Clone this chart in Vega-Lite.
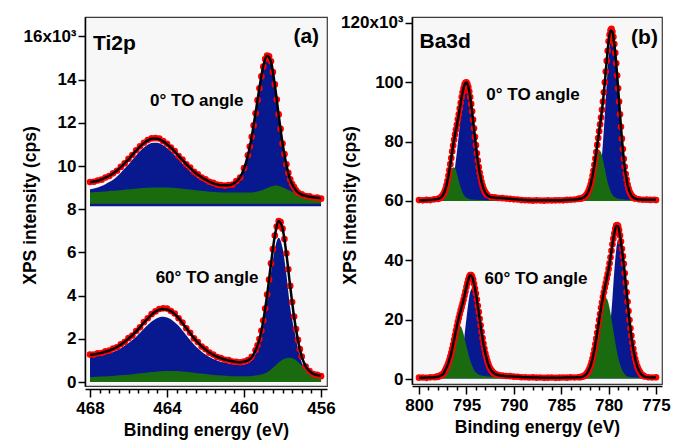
{
"$schema":"https://vega.github.io/schema/vega-lite/v6.json",
"background":"white",
"padding":{"left":20,"top":13,"right":5,"bottom":0},
"config":{
 "font":"Liberation Sans",
 "view":{"stroke":"#3a3a3a","strokeWidth":1.2,"fill":"#f7f7f7"},
 "axis":{"grid":false,"domainColor":"black","domainWidth":1.5,"tickColor":"black","tickWidth":1.5,"labelFont":"Liberation Sans","labelFontWeight":"bold","labelFontSize":17,"labelColor":"black","titleFont":"Liberation Sans","titleFontWeight":"bold","titleFontSize":17.5,"titleColor":"black","labelFlush":false,"labelOverlap":false,"labelBound":false}
},
"datasets":{
"tiO":[
{"s":"0","e":456,"v":8.49},{"s":"0","e":456.2,"v":8.54},{"s":"0","e":456.4,"v":8.53},{"s":"0","e":456.6,"v":8.6},{"s":"0","e":456.8,"v":8.61},{"s":"0","e":457,"v":8.69},{"s":"0","e":457.2,"v":8.77},{"s":"0","e":457.3,"v":8.88},{"s":"0","e":457.4,"v":9.02},{"s":"0","e":457.5,"v":9.16},{"s":"0","e":457.6,"v":9.38},{"s":"0","e":457.7,"v":9.68},{"s":"0","e":457.8,"v":10.08},{"s":"0","e":457.9,"v":10.55},{"s":"0","e":458,"v":11.04},{"s":"0","e":458.1,"v":11.72},{"s":"0","e":458.2,"v":12.39},{"s":"0","e":458.3,"v":13.08},{"s":"0","e":458.4,"v":13.78},{"s":"0","e":458.5,"v":14.35},{"s":"0","e":458.6,"v":14.85},{"s":"0","e":458.7,"v":15.08},{"s":"0","e":458.8,"v":15.12},{"s":"0","e":458.9,"v":14.95},{"s":"0","e":459,"v":14.6},{"s":"0","e":459.1,"v":14.15},{"s":"0","e":459.2,"v":13.6},{"s":"0","e":459.3,"v":13.05},{"s":"0","e":459.4,"v":12.44},{"s":"0","e":459.5,"v":11.88},{"s":"0","e":459.6,"v":11.35},{"s":"0","e":459.7,"v":10.9},{"s":"0","e":459.8,"v":10.5},{"s":"0","e":460,"v":9.9},{"s":"0","e":460.2,"v":9.47},{"s":"0","e":460.4,"v":9.3},{"s":"0","e":460.6,"v":9.14},{"s":"0","e":460.8,"v":9.12},{"s":"0","e":461,"v":9.09},{"s":"0","e":461.2,"v":9.12},{"s":"0","e":461.4,"v":9.14},{"s":"0","e":461.6,"v":9.22},{"s":"0","e":461.8,"v":9.27},{"s":"0","e":462,"v":9.39},{"s":"0","e":462.2,"v":9.47},{"s":"0","e":462.4,"v":9.62},{"s":"0","e":462.6,"v":9.73},{"s":"0","e":462.8,"v":9.93},{"s":"0","e":463,"v":10.08},{"s":"0","e":463.2,"v":10.3},{"s":"0","e":463.4,"v":10.46},{"s":"0","e":463.6,"v":10.69},{"s":"0","e":463.8,"v":10.86},{"s":"0","e":464,"v":11.03},{"s":"0","e":464.2,"v":11.15},{"s":"0","e":464.4,"v":11.27},{"s":"0","e":464.6,"v":11.29},{"s":"0","e":464.8,"v":11.28},{"s":"0","e":465,"v":11.2},{"s":"0","e":465.2,"v":11.08},{"s":"0","e":465.4,"v":10.91},{"s":"0","e":465.6,"v":10.73},{"s":"0","e":465.8,"v":10.51},{"s":"0","e":466,"v":10.33},{"s":"0","e":466.2,"v":10.12},{"s":"0","e":466.4,"v":9.96},{"s":"0","e":466.6,"v":9.78},{"s":"0","e":466.8,"v":9.66},{"s":"0","e":467,"v":9.54},{"s":"0","e":467.2,"v":9.47},{"s":"0","e":467.4,"v":9.37},{"s":"0","e":467.6,"v":9.33},{"s":"0","e":467.8,"v":9.27},{"s":"0","e":468,"v":9.26},
{"s":"60","e":456,"v":0.27},{"s":"60","e":456.2,"v":0.33},{"s":"60","e":456.4,"v":0.37},{"s":"60","e":456.6,"v":0.51},{"s":"60","e":456.8,"v":0.72},{"s":"60","e":457,"v":1.18},{"s":"60","e":457.1,"v":1.52},{"s":"60","e":457.2,"v":1.95},{"s":"60","e":457.3,"v":2.45},{"s":"60","e":457.4,"v":3.03},{"s":"60","e":457.5,"v":3.7},{"s":"60","e":457.6,"v":4.45},{"s":"60","e":457.7,"v":5.22},{"s":"60","e":457.8,"v":5.96},{"s":"60","e":457.9,"v":6.62},{"s":"60","e":458,"v":7.1},{"s":"60","e":458.1,"v":7.4},{"s":"60","e":458.2,"v":7.45},{"s":"60","e":458.3,"v":7.2},{"s":"60","e":458.4,"v":6.78},{"s":"60","e":458.5,"v":6.15},{"s":"60","e":458.6,"v":5.49},{"s":"60","e":458.7,"v":4.74},{"s":"60","e":458.8,"v":4.05},{"s":"60","e":458.9,"v":3.4},{"s":"60","e":459,"v":2.85},{"s":"60","e":459.1,"v":2.37},{"s":"60","e":459.2,"v":1.99},{"s":"60","e":459.3,"v":1.7},{"s":"60","e":459.4,"v":1.47},{"s":"60","e":459.6,"v":1.17},{"s":"60","e":459.8,"v":1.01},{"s":"60","e":460,"v":0.95},{"s":"60","e":460.2,"v":0.91},{"s":"60","e":460.4,"v":0.94},{"s":"60","e":460.6,"v":0.95},{"s":"60","e":460.8,"v":1.01},{"s":"60","e":461,"v":1.03},{"s":"60","e":461.2,"v":1.11},{"s":"60","e":461.4,"v":1.16},{"s":"60","e":461.6,"v":1.27},{"s":"60","e":461.8,"v":1.36},{"s":"60","e":462,"v":1.52},{"s":"60","e":462.2,"v":1.64},{"s":"60","e":462.4,"v":1.85},{"s":"60","e":462.6,"v":2.02},{"s":"60","e":462.8,"v":2.28},{"s":"60","e":463,"v":2.49},{"s":"60","e":463.2,"v":2.75},{"s":"60","e":463.4,"v":2.95},{"s":"60","e":463.6,"v":3.17},{"s":"60","e":463.8,"v":3.29},{"s":"60","e":464,"v":3.4},{"s":"60","e":464.2,"v":3.41},{"s":"60","e":464.4,"v":3.38},{"s":"60","e":464.6,"v":3.27},{"s":"60","e":464.8,"v":3.14},{"s":"60","e":465,"v":2.95},{"s":"60","e":465.2,"v":2.77},{"s":"60","e":465.4,"v":2.53},{"s":"60","e":465.6,"v":2.36},{"s":"60","e":465.8,"v":2.15},{"s":"60","e":466,"v":2.03},{"s":"60","e":466.2,"v":1.85},{"s":"60","e":466.4,"v":1.75},{"s":"60","e":466.6,"v":1.61},{"s":"60","e":466.8,"v":1.55},{"s":"60","e":467,"v":1.45},{"s":"60","e":467.2,"v":1.42},{"s":"60","e":467.4,"v":1.34},{"s":"60","e":467.6,"v":1.33},{"s":"60","e":467.8,"v":1.27},{"s":"60","e":468,"v":1.27}
],
"tiC":[
{"s":"0","e":456,"f":8.51,"b":8.46,"g":8.46,"z":8.2},{"s":"0","e":456.2,"f":8.53,"b":8.48,"g":8.49,"z":8.2},{"s":"0","e":456.4,"f":8.55,"b":8.5,"g":8.52,"z":8.2},{"s":"0","e":456.6,"f":8.58,"b":8.52,"g":8.56,"z":8.2},{"s":"0","e":456.8,"f":8.62,"b":8.55,"g":8.6,"z":8.2},{"s":"0","e":457,"f":8.67,"b":8.59,"g":8.64,"z":8.2},{"s":"0","e":457.2,"f":8.78,"b":8.69,"g":8.7,"z":8.2},{"s":"0","e":457.4,"f":9.0,"b":8.9,"g":8.76,"z":8.2},{"s":"0","e":457.6,"f":9.36,"b":9.24,"g":8.85,"z":8.2},{"s":"0","e":457.8,"f":10.06,"b":9.93,"g":8.94,"z":8.2},{"s":"0","e":458,"f":11.06,"b":10.92,"g":9.02,"z":8.2},{"s":"0","e":458.2,"f":12.36,"b":12.22,"g":9.08,"z":8.2},{"s":"0","e":458.4,"f":13.75,"b":13.61,"g":9.1,"z":8.2},{"s":"0","e":458.6,"f":14.83,"b":14.7,"g":9.05,"z":8.2},{"s":"0","e":458.8,"f":15.11,"b":14.99,"g":8.98,"z":8.2},{"s":"0","e":459,"f":14.63,"b":14.53,"g":8.9,"z":8.2},{"s":"0","e":459.2,"f":13.62,"b":13.53,"g":8.84,"z":8.2},{"s":"0","e":459.4,"f":12.46,"b":12.38,"g":8.8,"z":8.2},{"s":"0","e":459.6,"f":11.36,"b":11.28,"g":8.78,"z":8.2},{"s":"0","e":459.8,"f":10.49,"b":10.41,"g":8.77,"z":8.2},{"s":"0","e":460,"f":9.88,"b":9.8,"g":8.77,"z":8.2},{"s":"0","e":460.2,"f":9.49,"b":9.41,"g":8.77,"z":8.2},{"s":"0","e":460.4,"f":9.28,"b":9.2,"g":8.77,"z":8.2},{"s":"0","e":460.6,"f":9.16,"b":9.08,"g":8.77,"z":8.2},{"s":"0","e":460.8,"f":9.11,"b":9.02,"g":8.77,"z":8.2},{"s":"0","e":461,"f":9.11,"b":9.01,"g":8.77,"z":8.2},{"s":"0","e":461.2,"f":9.11,"b":9.01,"g":8.78,"z":8.2},{"s":"0","e":461.4,"f":9.15,"b":9.04,"g":8.79,"z":8.2},{"s":"0","e":461.6,"f":9.2,"b":9.09,"g":8.8,"z":8.2},{"s":"0","e":461.8,"f":9.28,"b":9.16,"g":8.81,"z":8.2},{"s":"0","e":462,"f":9.37,"b":9.25,"g":8.83,"z":8.2},{"s":"0","e":462.2,"f":9.48,"b":9.35,"g":8.85,"z":8.2},{"s":"0","e":462.4,"f":9.6,"b":9.46,"g":8.87,"z":8.2},{"s":"0","e":462.6,"f":9.74,"b":9.6,"g":8.89,"z":8.2},{"s":"0","e":462.8,"f":9.91,"b":9.76,"g":8.91,"z":8.2},{"s":"0","e":463,"f":10.09,"b":9.93,"g":8.93,"z":8.2},{"s":"0","e":463.2,"f":10.28,"b":10.12,"g":8.95,"z":8.2},{"s":"0","e":463.4,"f":10.47,"b":10.31,"g":8.97,"z":8.2},{"s":"0","e":463.6,"f":10.67,"b":10.5,"g":8.98,"z":8.2},{"s":"0","e":463.8,"f":10.85,"b":10.68,"g":8.99,"z":8.2},{"s":"0","e":464,"f":11.01,"b":10.83,"g":9.0,"z":8.2},{"s":"0","e":464.2,"f":11.14,"b":10.96,"g":9.01,"z":8.2},{"s":"0","e":464.4,"f":11.24,"b":11.06,"g":9.01,"z":8.2},{"s":"0","e":464.6,"f":11.27,"b":11.08,"g":9.01,"z":8.2},{"s":"0","e":464.8,"f":11.26,"b":11.07,"g":9.0,"z":8.2},{"s":"0","e":465,"f":11.19,"b":10.99,"g":8.99,"z":8.2},{"s":"0","e":465.2,"f":11.06,"b":10.86,"g":8.98,"z":8.2},{"s":"0","e":465.4,"f":10.9,"b":10.69,"g":8.97,"z":8.2},{"s":"0","e":465.6,"f":10.71,"b":10.49,"g":8.95,"z":8.2},{"s":"0","e":465.8,"f":10.52,"b":10.29,"g":8.94,"z":8.2},{"s":"0","e":466,"f":10.31,"b":10.07,"g":8.92,"z":8.2},{"s":"0","e":466.2,"f":10.13,"b":9.88,"g":8.9,"z":8.2},{"s":"0","e":466.4,"f":9.95,"b":9.69,"g":8.88,"z":8.2},{"s":"0","e":466.6,"f":9.79,"b":9.52,"g":8.87,"z":8.2},{"s":"0","e":466.8,"f":9.65,"b":9.37,"g":8.85,"z":8.2},{"s":"0","e":467,"f":9.55,"b":9.26,"g":8.84,"z":8.2},{"s":"0","e":467.2,"f":9.46,"b":9.16,"g":8.82,"z":8.2},{"s":"0","e":467.4,"f":9.38,"b":9.07,"g":8.81,"z":8.2},{"s":"0","e":467.6,"f":9.32,"b":9.0,"g":8.8,"z":8.2},{"s":"0","e":467.8,"f":9.28,"b":8.96,"g":8.79,"z":8.2},{"s":"0","e":468,"f":9.25,"b":8.92,"g":8.78,"z":8.2},
{"s":"60","e":456,"f":0.29,"b":0.24,"g":0.2,"z":0},{"s":"60","e":456.2,"f":0.32,"b":0.26,"g":0.25,"z":0},{"s":"60","e":456.4,"f":0.38,"b":0.31,"g":0.32,"z":0},{"s":"60","e":456.6,"f":0.5,"b":0.4,"g":0.43,"z":0},{"s":"60","e":456.8,"f":0.73,"b":0.57,"g":0.58,"z":0},{"s":"60","e":457,"f":1.16,"b":0.9,"g":0.76,"z":0},{"s":"60","e":457.2,"f":1.93,"b":1.55,"g":0.93,"z":0},{"s":"60","e":457.4,"f":3.01,"b":2.45,"g":1.06,"z":0},{"s":"60","e":457.6,"f":4.42,"b":3.44,"g":1.12,"z":0},{"s":"60","e":457.8,"f":5.94,"b":4.98,"g":1.1,"z":0},{"s":"60","e":458,"f":7.11,"b":6.22,"g":1.03,"z":0},{"s":"60","e":458.2,"f":7.44,"b":6.68,"g":0.9,"z":0},{"s":"60","e":458.4,"f":6.76,"b":6.16,"g":0.74,"z":0},{"s":"60","e":458.6,"f":5.47,"b":5.03,"g":0.58,"z":0},{"s":"60","e":458.8,"f":4.03,"b":3.72,"g":0.45,"z":0},{"s":"60","e":459,"f":2.83,"b":2.6,"g":0.37,"z":0},{"s":"60","e":459.2,"f":1.97,"b":1.79,"g":0.32,"z":0},{"s":"60","e":459.4,"f":1.46,"b":1.3,"g":0.3,"z":0},{"s":"60","e":459.6,"f":1.15,"b":1.01,"g":0.28,"z":0},{"s":"60","e":459.8,"f":1.0,"b":0.87,"g":0.27,"z":0},{"s":"60","e":460,"f":0.94,"b":0.81,"g":0.27,"z":0},{"s":"60","e":460.2,"f":0.92,"b":0.79,"g":0.27,"z":0},{"s":"60","e":460.4,"f":0.93,"b":0.8,"g":0.27,"z":0},{"s":"60","e":460.6,"f":0.96,"b":0.83,"g":0.27,"z":0},{"s":"60","e":460.8,"f":1.0,"b":0.86,"g":0.28,"z":0},{"s":"60","e":461,"f":1.04,"b":0.89,"g":0.29,"z":0},{"s":"60","e":461.2,"f":1.1,"b":0.94,"g":0.3,"z":0},{"s":"60","e":461.4,"f":1.17,"b":1.0,"g":0.31,"z":0},{"s":"60","e":461.6,"f":1.26,"b":1.07,"g":0.33,"z":0},{"s":"60","e":461.8,"f":1.37,"b":1.16,"g":0.35,"z":0},{"s":"60","e":462,"f":1.5,"b":1.27,"g":0.37,"z":0},{"s":"60","e":462.2,"f":1.65,"b":1.4,"g":0.39,"z":0},{"s":"60","e":462.4,"f":1.83,"b":1.56,"g":0.41,"z":0},{"s":"60","e":462.6,"f":2.03,"b":1.74,"g":0.43,"z":0},{"s":"60","e":462.8,"f":2.26,"b":1.95,"g":0.45,"z":0},{"s":"60","e":463,"f":2.5,"b":2.17,"g":0.47,"z":0},{"s":"60","e":463.2,"f":2.73,"b":2.38,"g":0.49,"z":0},{"s":"60","e":463.4,"f":2.96,"b":2.6,"g":0.5,"z":0},{"s":"60","e":463.6,"f":3.14,"b":2.77,"g":0.51,"z":0},{"s":"60","e":463.8,"f":3.28,"b":2.91,"g":0.51,"z":0},{"s":"60","e":464,"f":3.36,"b":2.99,"g":0.51,"z":0},{"s":"60","e":464.2,"f":3.38,"b":3.02,"g":0.5,"z":0},{"s":"60","e":464.4,"f":3.35,"b":3.0,"g":0.49,"z":0},{"s":"60","e":464.6,"f":3.26,"b":2.92,"g":0.48,"z":0},{"s":"60","e":464.8,"f":3.12,"b":2.8,"g":0.46,"z":0},{"s":"60","e":465,"f":2.94,"b":2.64,"g":0.44,"z":0},{"s":"60","e":465.2,"f":2.75,"b":2.47,"g":0.42,"z":0},{"s":"60","e":465.4,"f":2.54,"b":2.28,"g":0.4,"z":0},{"s":"60","e":465.6,"f":2.34,"b":2.1,"g":0.38,"z":0},{"s":"60","e":465.8,"f":2.16,"b":1.94,"g":0.36,"z":0},{"s":"60","e":466,"f":2.01,"b":1.81,"g":0.34,"z":0},{"s":"60","e":466.2,"f":1.86,"b":1.68,"g":0.32,"z":0},{"s":"60","e":466.4,"f":1.73,"b":1.56,"g":0.31,"z":0},{"s":"60","e":466.6,"f":1.62,"b":1.46,"g":0.3,"z":0},{"s":"60","e":466.8,"f":1.53,"b":1.39,"g":0.28,"z":0},{"s":"60","e":467,"f":1.46,"b":1.33,"g":0.27,"z":0},{"s":"60","e":467.2,"f":1.4,"b":1.28,"g":0.26,"z":0},{"s":"60","e":467.4,"f":1.35,"b":1.24,"g":0.25,"z":0},{"s":"60","e":467.6,"f":1.31,"b":1.21,"g":0.24,"z":0},{"s":"60","e":467.8,"f":1.28,"b":1.19,"g":0.23,"z":0},{"s":"60","e":468,"f":1.25,"b":1.17,"g":0.22,"z":0}
],
"baO":[
{"s":"0","e":800,"v":60.3},{"s":"0","e":799.6,"v":60.2},{"s":"0","e":799.2,"v":60.35},{"s":"0","e":798.8,"v":60.3},{"s":"0","e":798.4,"v":60.55},{"s":"0","e":798,"v":60.7},
{"s":"0","e":797.8,"v":60.95},{"s":"0","e":797.7,"v":61.15},{"s":"0","e":797.6,"v":61.5},{"s":"0","e":797.5,"v":61.9},{"s":"0","e":797.4,"v":62.45},{"s":"0","e":797.3,"v":63.2},{"s":"0","e":797.2,"v":64.0},{"s":"0","e":797.1,"v":65.3},{"s":"0","e":797,"v":66.7},{"s":"0","e":796.9,"v":68.5},{"s":"0","e":796.8,"v":70.3},{"s":"0","e":796.7,"v":72.4},{"s":"0","e":796.6,"v":74.5},{"s":"0","e":796.5,"v":76.7},{"s":"0","e":796.4,"v":78.7},{"s":"0","e":796.3,"v":80.6},{"s":"0","e":796.2,"v":82.4},{"s":"0","e":796.1,"v":84.1},{"s":"0","e":796,"v":85.7},{"s":"0","e":795.9,"v":87.5},{"s":"0","e":795.8,"v":89.2},{"s":"0","e":795.7,"v":91.2},{"s":"0","e":795.6,"v":93.1},{"s":"0","e":795.5,"v":95.0},{"s":"0","e":795.4,"v":96.6},{"s":"0","e":795.3,"v":98.0},{"s":"0","e":795.2,"v":99.2},{"s":"0","e":795.1,"v":99.8},{"s":"0","e":795,"v":100.0},{"s":"0","e":794.9,"v":99.4},{"s":"0","e":794.8,"v":98.4},{"s":"0","e":794.7,"v":96.9},{"s":"0","e":794.6,"v":95.0},{"s":"0","e":794.5,"v":92.7},{"s":"0","e":794.4,"v":90.2},{"s":"0","e":794.3,"v":87.4},{"s":"0","e":794.2,"v":84.5},{"s":"0","e":794.1,"v":81.6},{"s":"0","e":794,"v":78.8},{"s":"0","e":793.9,"v":76.1},{"s":"0","e":793.8,"v":73.6},{"s":"0","e":793.7,"v":71.4},{"s":"0","e":793.6,"v":69.5},{"s":"0","e":793.5,"v":67.9},{"s":"0","e":793.4,"v":66.4},{"s":"0","e":793.3,"v":65.2},{"s":"0","e":793.2,"v":64.2},{"s":"0","e":793.1,"v":63.4},{"s":"0","e":793,"v":62.8},{"s":"0","e":792.9,"v":62.3},{"s":"0","e":792.8,"v":62.0},
{"s":"0","e":792.4,"v":61.3},{"s":"0","e":792,"v":61.2},{"s":"0","e":791.6,"v":61.0},{"s":"0","e":791.2,"v":60.95},{"s":"0","e":790.8,"v":60.8},{"s":"0","e":790.4,"v":60.7},{"s":"0","e":790,"v":60.55},{"s":"0","e":789.6,"v":60.5},{"s":"0","e":789.2,"v":60.3},{"s":"0","e":788.8,"v":60.25},{"s":"0","e":788.4,"v":60.2},{"s":"0","e":788,"v":60.1},{"s":"0","e":787.6,"v":60.2},{"s":"0","e":787.2,"v":60.15},{"s":"0","e":786.8,"v":60.1},{"s":"0","e":786.4,"v":60.2},{"s":"0","e":786,"v":60.15},{"s":"0","e":785.6,"v":60.2},{"s":"0","e":785.2,"v":60.25},{"s":"0","e":784.8,"v":60.2},{"s":"0","e":784.4,"v":60.35},{"s":"0","e":784,"v":60.4},{"s":"0","e":783.6,"v":60.5},{"s":"0","e":783.2,"v":60.7},
{"s":"0","e":783,"v":60.8},{"s":"0","e":782.9,"v":60.85},{"s":"0","e":782.8,"v":60.95},{"s":"0","e":782.7,"v":61.1},{"s":"0","e":782.6,"v":61.25},{"s":"0","e":782.5,"v":61.5},{"s":"0","e":782.4,"v":61.8},{"s":"0","e":782.3,"v":62.25},{"s":"0","e":782.2,"v":62.8},{"s":"0","e":782.1,"v":63.5},{"s":"0","e":782,"v":64.4},{"s":"0","e":781.9,"v":65.5},{"s":"0","e":781.8,"v":66.9},{"s":"0","e":781.7,"v":68.5},{"s":"0","e":781.6,"v":70.2},{"s":"0","e":781.5,"v":72.2},{"s":"0","e":781.4,"v":74.3},{"s":"0","e":781.3,"v":76.5},{"s":"0","e":781.2,"v":78.9},{"s":"0","e":781.1,"v":81.2},{"s":"0","e":781,"v":83.5},{"s":"0","e":780.9,"v":85.8},{"s":"0","e":780.8,"v":88.1},{"s":"0","e":780.7,"v":90.7},{"s":"0","e":780.6,"v":93.5},{"s":"0","e":780.5,"v":96.6},{"s":"0","e":780.4,"v":100.0},{"s":"0","e":780.3,"v":103.6},{"s":"0","e":780.2,"v":107.2},{"s":"0","e":780.1,"v":110.6},{"s":"0","e":780,"v":113.8},{"s":"0","e":779.9,"v":116.0},{"s":"0","e":779.8,"v":117.5},{"s":"0","e":779.7,"v":118.0},{"s":"0","e":779.6,"v":117.0},{"s":"0","e":779.5,"v":115.3},{"s":"0","e":779.4,"v":112.9},{"s":"0","e":779.3,"v":109.9},{"s":"0","e":779.2,"v":106.4},{"s":"0","e":779.1,"v":102.3},{"s":"0","e":779,"v":98.0},{"s":"0","e":778.9,"v":93.5},{"s":"0","e":778.8,"v":89.2},{"s":"0","e":778.7,"v":85.0},{"s":"0","e":778.6,"v":81.0},{"s":"0","e":778.5,"v":77.5},{"s":"0","e":778.4,"v":74.2},{"s":"0","e":778.3,"v":71.5},{"s":"0","e":778.2,"v":69.1},{"s":"0","e":778.1,"v":67.2},{"s":"0","e":778,"v":65.5},{"s":"0","e":777.9,"v":64.3},{"s":"0","e":777.8,"v":63.2},{"s":"0","e":777.7,"v":62.5},{"s":"0","e":777.6,"v":61.9},{"s":"0","e":777.5,"v":61.5},{"s":"0","e":777.4,"v":61.2},{"s":"0","e":777.3,"v":60.95},{"s":"0","e":777.2,"v":60.8},
{"s":"0","e":776.8,"v":60.55},{"s":"0","e":776.4,"v":60.4},{"s":"0","e":776,"v":60.45},{"s":"0","e":775.6,"v":60.35},{"s":"0","e":775.2,"v":60.4},{"s":"0","e":775,"v":60.3},
{"s":"60","e":800,"v":0.45},{"s":"60","e":799.6,"v":0.5},{"s":"60","e":799.2,"v":0.4},{"s":"60","e":798.8,"v":0.55},{"s":"60","e":798.4,"v":0.6},
{"s":"60","e":798.2,"v":0.7},{"s":"60","e":798.1,"v":0.7},{"s":"60","e":798,"v":0.85},{"s":"60","e":797.9,"v":0.9},{"s":"60","e":797.8,"v":1.05},{"s":"60","e":797.7,"v":1.2},{"s":"60","e":797.6,"v":1.4},{"s":"60","e":797.5,"v":1.6},{"s":"60","e":797.4,"v":1.95},{"s":"60","e":797.3,"v":2.5},{"s":"60","e":797.2,"v":3.2},{"s":"60","e":797.1,"v":3.85},{"s":"60","e":797,"v":4.55},{"s":"60","e":796.9,"v":5.45},{"s":"60","e":796.8,"v":6.4},{"s":"60","e":796.7,"v":7.6},{"s":"60","e":796.6,"v":8.8},{"s":"60","e":796.5,"v":10.2},{"s":"60","e":796.4,"v":11.6},{"s":"60","e":796.3,"v":13.2},{"s":"60","e":796.2,"v":14.7},{"s":"60","e":796.1,"v":16.3},{"s":"60","e":796,"v":17.8},{"s":"60","e":795.9,"v":19.3},{"s":"60","e":795.8,"v":20.6},{"s":"60","e":795.7,"v":21.9},{"s":"60","e":795.6,"v":23.2},{"s":"60","e":795.5,"v":24.3},{"s":"60","e":795.4,"v":25.5},{"s":"60","e":795.3,"v":26.7},{"s":"60","e":795.2,"v":28.1},{"s":"60","e":795.1,"v":29.5},{"s":"60","e":795,"v":31.0},{"s":"60","e":794.9,"v":32.3},{"s":"60","e":794.8,"v":33.5},{"s":"60","e":794.7,"v":34.4},{"s":"60","e":794.6,"v":35.0},{"s":"60","e":794.5,"v":35.0},{"s":"60","e":794.4,"v":34.5},{"s":"60","e":794.3,"v":33.5},{"s":"60","e":794.2,"v":32.1},{"s":"60","e":794.1,"v":30.5},{"s":"60","e":794,"v":28.8},{"s":"60","e":793.9,"v":26.8},{"s":"60","e":793.8,"v":24.7},{"s":"60","e":793.7,"v":22.6},{"s":"60","e":793.6,"v":20.3},{"s":"60","e":793.5,"v":18.1},{"s":"60","e":793.4,"v":15.9},{"s":"60","e":793.3,"v":13.8},{"s":"60","e":793.2,"v":11.9},{"s":"60","e":793.1,"v":10.2},{"s":"60","e":793,"v":8.6},{"s":"60","e":792.9,"v":7.3},{"s":"60","e":792.8,"v":6.1},{"s":"60","e":792.7,"v":5.1},{"s":"60","e":792.6,"v":4.2},{"s":"60","e":792.5,"v":3.5},{"s":"60","e":792.4,"v":3.0},{"s":"60","e":792.3,"v":2.6},{"s":"60","e":792.2,"v":2.2},{"s":"60","e":792.1,"v":1.9},{"s":"60","e":792,"v":1.75},{"s":"60","e":791.9,"v":1.6},
{"s":"60","e":791.6,"v":1.35},{"s":"60","e":791.2,"v":1.15},{"s":"60","e":790.8,"v":1.0},{"s":"60","e":790.4,"v":0.95},{"s":"60","e":790,"v":0.8},{"s":"60","e":789.6,"v":0.75},{"s":"60","e":789.2,"v":0.6},{"s":"60","e":788.8,"v":0.6},{"s":"60","e":788.4,"v":0.5},{"s":"60","e":788,"v":0.55},{"s":"60","e":787.6,"v":0.45},{"s":"60","e":787.2,"v":0.5},{"s":"60","e":786.8,"v":0.4},{"s":"60","e":786.4,"v":0.45},{"s":"60","e":786,"v":0.5},{"s":"60","e":785.6,"v":0.4},{"s":"60","e":785.2,"v":0.45},{"s":"60","e":784.8,"v":0.5},{"s":"60","e":784.4,"v":0.45},{"s":"60","e":784,"v":0.55},{"s":"60","e":783.6,"v":0.5},{"s":"60","e":783.2,"v":0.6},
{"s":"60","e":783,"v":0.6},{"s":"60","e":782.9,"v":0.7},{"s":"60","e":782.8,"v":0.75},{"s":"60","e":782.7,"v":0.85},{"s":"60","e":782.6,"v":1.0},{"s":"60","e":782.5,"v":1.2},{"s":"60","e":782.4,"v":1.5},{"s":"60","e":782.3,"v":1.85},{"s":"60","e":782.2,"v":2.3},{"s":"60","e":782.1,"v":2.9},{"s":"60","e":782,"v":3.6},{"s":"60","e":781.9,"v":4.5},{"s":"60","e":781.8,"v":5.6},{"s":"60","e":781.7,"v":6.9},{"s":"60","e":781.6,"v":8.3},{"s":"60","e":781.5,"v":9.9},{"s":"60","e":781.4,"v":11.7},{"s":"60","e":781.3,"v":13.6},{"s":"60","e":781.2,"v":15.6},{"s":"60","e":781.1,"v":17.7},{"s":"60","e":781,"v":19.9},{"s":"60","e":780.9,"v":21.9},{"s":"60","e":780.8,"v":24.0},{"s":"60","e":780.7,"v":25.8},{"s":"60","e":780.6,"v":27.6},{"s":"60","e":780.5,"v":29.2},{"s":"60","e":780.4,"v":30.8},{"s":"60","e":780.3,"v":32.3},{"s":"60","e":780.2,"v":33.9},{"s":"60","e":780.1,"v":35.4},{"s":"60","e":780,"v":37.1},{"s":"60","e":779.9,"v":39.0},{"s":"60","e":779.8,"v":41.0},{"s":"60","e":779.7,"v":43.2},{"s":"60","e":779.6,"v":45.4},{"s":"60","e":779.5,"v":47.3},{"s":"60","e":779.4,"v":49.0},{"s":"60","e":779.3,"v":50.6},{"s":"60","e":779.2,"v":51.7},{"s":"60","e":779.1,"v":51.9},{"s":"60","e":779,"v":51.5},{"s":"60","e":778.9,"v":50.2},{"s":"60","e":778.8,"v":48.4},{"s":"60","e":778.7,"v":46.3},{"s":"60","e":778.6,"v":43.9},{"s":"60","e":778.5,"v":41.4},{"s":"60","e":778.4,"v":38.8},{"s":"60","e":778.3,"v":35.6},{"s":"60","e":778.2,"v":32.4},{"s":"60","e":778.1,"v":29.2},{"s":"60","e":778,"v":26.0},{"s":"60","e":777.9,"v":22.9},{"s":"60","e":777.8,"v":19.9},{"s":"60","e":777.7,"v":17.1},{"s":"60","e":777.6,"v":14.6},{"s":"60","e":777.5,"v":12.3},{"s":"60","e":777.4,"v":10.2},{"s":"60","e":777.3,"v":8.4},{"s":"60","e":777.2,"v":6.8},{"s":"60","e":777.1,"v":5.5},{"s":"60","e":777,"v":4.4},{"s":"60","e":776.9,"v":3.6},{"s":"60","e":776.8,"v":2.85},{"s":"60","e":776.7,"v":2.3},{"s":"60","e":776.6,"v":1.8},{"s":"60","e":776.5,"v":1.45},{"s":"60","e":776.4,"v":1.2},{"s":"60","e":776.3,"v":1.0},{"s":"60","e":776.2,"v":0.85},
{"s":"60","e":775.8,"v":0.6},{"s":"60","e":775.4,"v":0.5},{"s":"60","e":775,"v":0.55}
],
"baC":[
{"s":"0","e":800,"f":60.25,"b":60.15,"g":60.25,"z":60},{"s":"0","e":799.5,"f":60.27,"b":60.15,"g":60.27,"z":60},{"s":"0","e":799,"f":60.32,"b":60.15,"g":60.31,"z":60},{"s":"0","e":798.5,"f":60.45,"b":60.15,"g":60.41,"z":60},{"s":"0","e":798,"f":60.69,"b":60.17,"g":60.62,"z":60},{"s":"0","e":797.8,"f":60.92,"b":60.19,"g":60.83,"z":60},{"s":"0","e":797.6,"f":61.45,"b":60.27,"g":61.28,"z":60},{"s":"0","e":797.4,"f":62.4,"b":60.43,"g":62.07,"z":60},{"s":"0","e":797.2,"f":64.04,"b":60.76,"g":63.38,"z":60},{"s":"0","e":797,"f":66.7,"b":61.41,"g":65.35,"z":60},{"s":"0","e":796.8,"f":70.25,"b":62.56,"g":67.74,"z":60},{"s":"0","e":796.6,"f":74.47,"b":64.46,"g":70.04,"z":60},{"s":"0","e":796.4,"f":78.7,"b":67.35,"g":71.36,"z":60},{"s":"0","e":796.2,"f":82.4,"b":71.35,"g":71.02,"z":60},{"s":"0","e":796,"f":85.7,"b":76.55,"g":69.19,"z":60},{"s":"0","e":795.8,"f":89.2,"b":82.45,"g":66.76,"z":60},{"s":"0","e":795.6,"f":93.1,"b":88.45,"g":64.52,"z":60},{"s":"0","e":795.4,"f":96.6,"b":93.75,"g":62.77,"z":60},{"s":"0","e":795.2,"f":99.2,"b":97.35,"g":61.68,"z":60},{"s":"0","e":795,"f":99.9,"b":98.65,"g":61.05,"z":60},{"s":"0","e":794.8,"f":98.4,"b":97.45,"g":60.74,"z":60},{"s":"0","e":794.6,"f":95.0,"b":94.15,"g":60.57,"z":60},{"s":"0","e":794.4,"f":90.2,"b":89.35,"g":60.48,"z":60},{"s":"0","e":794.2,"f":84.5,"b":83.75,"g":60.42,"z":60},{"s":"0","e":794,"f":78.8,"b":78.05,"g":60.38,"z":60},{"s":"0","e":793.8,"f":73.6,"b":72.85,"g":60.35,"z":60},{"s":"0","e":793.6,"f":69.5,"b":68.7,"g":60.33,"z":60},{"s":"0","e":793.4,"f":66.4,"b":65.55,"g":60.31,"z":60},{"s":"0","e":793.2,"f":64.2,"b":63.35,"g":60.29,"z":60},{"s":"0","e":793,"f":62.8,"b":61.93,"g":60.28,"z":60},{"s":"0","e":792.8,"f":62.0,"b":61.09,"g":60.27,"z":60},{"s":"0","e":792.5,"f":61.4,"b":60.47,"g":60.25,"z":60},{"s":"0","e":792,"f":61.1,"b":60.2,"g":60.22,"z":60},{"s":"0","e":791.5,"f":61.0,"b":60.15,"g":60.2,"z":60},{"s":"0","e":791,"f":60.9,"b":60.15,"g":60.18,"z":60},{"s":"0","e":790.5,"f":60.75,"b":60.15,"g":60.18,"z":60},{"s":"0","e":790,"f":60.6,"b":60.15,"g":60.18,"z":60},{"s":"0","e":789.5,"f":60.45,"b":60.15,"g":60.18,"z":60},{"s":"0","e":789,"f":60.35,"b":60.15,"g":60.18,"z":60},{"s":"0","e":788.5,"f":60.25,"b":60.15,"g":60.18,"z":60},{"s":"0","e":788,"f":60.2,"b":60.15,"g":60.18,"z":60},{"s":"0","e":787.5,"f":60.2,"b":60.15,"g":60.18,"z":60},{"s":"0","e":787,"f":60.2,"b":60.15,"g":60.18,"z":60},{"s":"0","e":786.5,"f":60.2,"b":60.15,"g":60.18,"z":60},{"s":"0","e":786,"f":60.2,"b":60.15,"g":60.18,"z":60},{"s":"0","e":785.5,"f":60.22,"b":60.15,"g":60.2,"z":60},{"s":"0","e":785,"f":60.25,"b":60.15,"g":60.22,"z":60},{"s":"0","e":784.5,"f":60.3,"b":60.15,"g":60.27,"z":60},{"s":"0","e":784,"f":60.38,"b":60.15,"g":60.35,"z":60},{"s":"0","e":783.5,"f":60.52,"b":60.15,"g":60.48,"z":60},{"s":"0","e":783,"f":60.77,"b":60.15,"g":60.72,"z":60},{"s":"0","e":782.8,"f":60.94,"b":60.15,"g":60.89,"z":60},{"s":"0","e":782.6,"f":61.23,"b":60.15,"g":61.18,"z":60},{"s":"0","e":782.4,"f":61.82,"b":60.16,"g":61.77,"z":60},{"s":"0","e":782.2,"f":62.79,"b":60.17,"g":62.72,"z":60},{"s":"0","e":782,"f":64.4,"b":60.23,"g":64.27,"z":60},{"s":"0","e":781.8,"f":66.86,"b":60.37,"g":66.59,"z":60},{"s":"0","e":781.6,"f":70.19,"b":60.74,"g":69.55,"z":60},{"s":"0","e":781.4,"f":74.25,"b":61.58,"g":72.77,"z":60},{"s":"0","e":781.2,"f":78.85,"b":63.34,"g":75.61,"z":60},{"s":"0","e":781,"f":83.48,"b":66.58,"g":77.0,"z":60},{"s":"0","e":780.8,"f":88.14,"b":71.85,"g":76.37,"z":60},{"s":"0","e":780.6,"f":93.5,"b":79.55,"g":74.01,"z":60},{"s":"0","e":780.4,"f":99.95,"b":89.15,"g":70.83,"z":60},{"s":"0","e":780.2,"f":107.24,"b":99.55,"g":67.69,"z":60},{"s":"0","e":780,"f":113.79,"b":108.65,"g":65.14,"z":60},{"s":"0","e":779.8,"f":117.43,"b":114.15,"g":63.28,"z":60},{"s":"0","e":779.6,"f":116.94,"b":114.85,"g":62.06,"z":60},{"s":"0","e":779.4,"f":112.93,"b":111.55,"g":61.33,"z":60},{"s":"0","e":779.2,"f":106.4,"b":105.35,"g":61.0,"z":60},{"s":"0","e":779,"f":97.98,"b":97.15,"g":60.78,"z":60},{"s":"0","e":778.8,"f":89.15,"b":88.45,"g":60.65,"z":60},{"s":"0","e":778.6,"f":81.05,"b":80.45,"g":60.55,"z":60},{"s":"0","e":778.4,"f":74.19,"b":73.65,"g":60.49,"z":60},{"s":"0","e":778.2,"f":69.11,"b":68.62,"g":60.44,"z":60},{"s":"0","e":778,"f":65.5,"b":65.05,"g":60.4,"z":60},{"s":"0","e":777.8,"f":63.24,"b":62.82,"g":60.37,"z":60},{"s":"0","e":777.6,"f":61.91,"b":61.51,"g":60.35,"z":60},{"s":"0","e":777.4,"f":61.17,"b":60.79,"g":60.33,"z":60},{"s":"0","e":777.2,"f":60.79,"b":60.43,"g":60.31,"z":60},{"s":"0","e":777,"f":60.6,"b":60.25,"g":60.3,"z":60},{"s":"0","e":776.5,"f":60.45,"b":60.15,"g":60.27,"z":60},{"s":"0","e":776,"f":60.4,"b":60.15,"g":60.25,"z":60},{"s":"0","e":775.5,"f":60.38,"b":60.15,"g":60.23,"z":60},{"s":"0","e":775,"f":60.37,"b":60.15,"g":60.22,"z":60},
{"s":"60","e":800,"f":0.45,"b":0.45,"g":0.45,"z":0.2},{"s":"60","e":799.5,"f":0.46,"b":0.45,"g":0.46,"z":0.2},{"s":"60","e":799,"f":0.48,"b":0.45,"g":0.48,"z":0.2},{"s":"60","e":798.6,"f":0.52,"b":0.45,"g":0.52,"z":0.2},{"s":"60","e":798.4,"f":0.55,"b":0.45,"g":0.55,"z":0.2},{"s":"60","e":798.2,"f":0.65,"b":0.45,"g":0.65,"z":0.2},{"s":"60","e":798,"f":0.8,"b":0.45,"g":0.8,"z":0.2},{"s":"60","e":797.8,"f":1.0,"b":0.45,"g":1.0,"z":0.2},{"s":"60","e":797.6,"f":1.35,"b":0.45,"g":1.33,"z":0.2},{"s":"60","e":797.4,"f":1.9,"b":0.45,"g":1.88,"z":0.2},{"s":"60","e":797.2,"f":3.21,"b":0.45,"g":3.2,"z":0.2},{"s":"60","e":797,"f":4.51,"b":0.45,"g":4.51,"z":0.2},{"s":"60","e":796.8,"f":6.41,"b":0.48,"g":6.38,"z":0.2},{"s":"60","e":796.6,"f":8.78,"b":0.54,"g":8.69,"z":0.2},{"s":"60","e":796.4,"f":11.63,"b":0.69,"g":11.39,"z":0.2},{"s":"60","e":796.2,"f":14.73,"b":1.06,"g":14.12,"z":0.2},{"s":"60","e":796,"f":17.84,"b":1.83,"g":16.46,"z":0.2},{"s":"60","e":795.8,"f":20.63,"b":3.31,"g":17.77,"z":0.2},{"s":"60","e":795.6,"f":23.14,"b":5.87,"g":17.72,"z":0.2},{"s":"60","e":795.4,"f":25.44,"b":9.65,"g":16.24,"z":0.2},{"s":"60","e":795.2,"f":28.09,"b":14.68,"g":13.86,"z":0.2},{"s":"60","e":795,"f":30.96,"b":20.29,"g":11.12,"z":0.2},{"s":"60","e":794.8,"f":33.48,"b":25.52,"g":8.41,"z":0.2},{"s":"60","e":794.6,"f":34.98,"b":29.29,"g":6.14,"z":0.2},{"s":"60","e":794.4,"f":34.51,"b":30.45,"g":4.51,"z":0.2},{"s":"60","e":794.2,"f":32.07,"b":29.45,"g":3.07,"z":0.2},{"s":"60","e":794,"f":28.81,"b":27.01,"g":2.25,"z":0.2},{"s":"60","e":793.8,"f":24.74,"b":23.43,"g":1.71,"z":0.2},{"s":"60","e":793.6,"f":20.3,"b":19.29,"g":1.36,"z":0.2},{"s":"60","e":793.4,"f":15.89,"b":15.04,"g":1.15,"z":0.2},{"s":"60","e":793.2,"f":11.89,"b":11.13,"g":1.01,"z":0.2},{"s":"60","e":793,"f":8.6,"b":7.86,"g":0.94,"z":0.2},{"s":"60","e":792.8,"f":6.05,"b":5.32,"g":0.88,"z":0.2},{"s":"60","e":792.6,"f":4.2,"b":3.47,"g":0.83,"z":0.2},{"s":"60","e":792.4,"f":2.97,"b":2.23,"g":0.79,"z":0.2},{"s":"60","e":792.2,"f":2.2,"b":1.44,"g":0.76,"z":0.2},{"s":"60","e":792,"f":1.74,"b":0.96,"g":0.73,"z":0.2},{"s":"60","e":791.5,"f":1.21,"b":0.52,"g":0.69,"z":0.2},{"s":"60","e":791,"f":1.05,"b":0.45,"g":0.65,"z":0.2},{"s":"60","e":790.5,"f":0.92,"b":0.45,"g":0.62,"z":0.2},{"s":"60","e":790,"f":0.85,"b":0.45,"g":0.6,"z":0.2},{"s":"60","e":789.5,"f":0.72,"b":0.45,"g":0.56,"z":0.2},{"s":"60","e":789,"f":0.62,"b":0.45,"g":0.53,"z":0.2},{"s":"60","e":788.5,"f":0.55,"b":0.45,"g":0.5,"z":0.2},{"s":"60","e":788,"f":0.5,"b":0.45,"g":0.48,"z":0.2},{"s":"60","e":787.5,"f":0.48,"b":0.45,"g":0.46,"z":0.2},{"s":"60","e":787,"f":0.46,"b":0.45,"g":0.45,"z":0.2},{"s":"60","e":786.5,"f":0.45,"b":0.45,"g":0.45,"z":0.2},{"s":"60","e":786,"f":0.45,"b":0.45,"g":0.45,"z":0.2},{"s":"60","e":785.5,"f":0.45,"b":0.45,"g":0.45,"z":0.2},{"s":"60","e":785,"f":0.46,"b":0.45,"g":0.46,"z":0.2},{"s":"60","e":784.5,"f":0.47,"b":0.45,"g":0.47,"z":0.2},{"s":"60","e":784,"f":0.5,"b":0.45,"g":0.5,"z":0.2},{"s":"60","e":783.5,"f":0.54,"b":0.45,"g":0.54,"z":0.2},{"s":"60","e":783,"f":0.6,"b":0.45,"g":0.6,"z":0.2},{"s":"60","e":782.8,"f":0.72,"b":0.45,"g":0.7,"z":0.2},{"s":"60","e":782.6,"f":1.0,"b":0.45,"g":0.96,"z":0.2},{"s":"60","e":782.4,"f":1.48,"b":0.45,"g":1.45,"z":0.2},{"s":"60","e":782.2,"f":2.3,"b":0.45,"g":2.29,"z":0.2},{"s":"60","e":782,"f":3.62,"b":0.45,"g":3.61,"z":0.2},{"s":"60","e":781.8,"f":5.58,"b":0.45,"g":5.57,"z":0.2},{"s":"60","e":781.6,"f":8.27,"b":0.45,"g":8.25,"z":0.2},{"s":"60","e":781.4,"f":11.68,"b":0.48,"g":11.65,"z":0.2},{"s":"60","e":781.2,"f":15.64,"b":0.54,"g":15.55,"z":0.2},{"s":"60","e":781,"f":19.86,"b":0.71,"g":19.6,"z":0.2},{"s":"60","e":780.8,"f":23.95,"b":1.14,"g":23.25,"z":0.2},{"s":"60","e":780.6,"f":27.57,"b":2.05,"g":25.95,"z":0.2},{"s":"60","e":780.4,"f":30.81,"b":3.86,"g":27.35,"z":0.2},{"s":"60","e":780.2,"f":33.85,"b":7.1,"g":27.1,"z":0.2},{"s":"60","e":780,"f":37.1,"b":12.1,"g":25.3,"z":0.2},{"s":"60","e":779.8,"f":41.0,"b":19.0,"g":22.2,"z":0.2},{"s":"60","e":779.6,"f":45.4,"b":27.15,"g":18.35,"z":0.2},{"s":"60","e":779.4,"f":49.0,"b":36.5,"g":14.35,"z":0.2},{"s":"60","e":779.2,"f":51.6,"b":43.5,"g":10.55,"z":0.2},{"s":"60","e":779,"f":51.4,"b":46.8,"g":7.39,"z":0.2},{"s":"60","e":778.8,"f":48.4,"b":46.5,"g":4.93,"z":0.2},{"s":"60","e":778.6,"f":43.9,"b":43.6,"g":3.17,"z":0.2},{"s":"60","e":778.4,"f":38.81,"b":38.5,"g":2.01,"z":0.2},{"s":"60","e":778.2,"f":32.39,"b":32.2,"g":1.29,"z":0.2},{"s":"60","e":778,"f":25.97,"b":25.2,"g":0.87,"z":0.2},{"s":"60","e":777.8,"f":19.85,"b":19.4,"g":0.65,"z":0.2},{"s":"60","e":777.6,"f":14.55,"b":14.28,"g":0.55,"z":0.2},{"s":"60","e":777.4,"f":10.2,"b":10.0,"g":0.5,"z":0.2},{"s":"60","e":777.2,"f":6.82,"b":6.73,"g":0.47,"z":0.2},{"s":"60","e":777,"f":4.44,"b":4.38,"g":0.47,"z":0.2},{"s":"60","e":776.8,"f":2.84,"b":2.79,"g":0.46,"z":0.2},{"s":"60","e":776.6,"f":1.8,"b":1.78,"g":0.46,"z":0.2},{"s":"60","e":776.4,"f":1.18,"b":1.17,"g":0.45,"z":0.2},{"s":"60","e":776.2,"f":0.82,"b":0.82,"g":0.45,"z":0.2},{"s":"60","e":776,"f":0.63,"b":0.63,"g":0.45,"z":0.2},{"s":"60","e":775.5,"f":0.5,"b":0.5,"g":0.45,"z":0.2},{"s":"60","e":775,"f":0.47,"b":0.47,"g":0.45,"z":0.2}
]
},
"spacing":85,
"bounds":"flush",
"hconcat":[
{
"width":242,"height":369,
"encoding":{"x":{"field":"e","type":"quantitative","title":"Binding energy (eV)","scale":{"domain":[455.69,468.26],"reverse":true,"nice":false,"zero":false},
  "axis":{"values":[456,456.5,457,457.5,458,458.5,459,459.5,460,460.5,461,461.5,462,462.5,463,463.5,464,464.5,465,465.5,466,466.5,467,467.5,468],"labelExpr":"datum.value % 4 === 0 ? format(datum.value, 'd') : ''","tickSize":{"condition":{"test":"datum.value % 4 === 0","value":8},"value":4},"offset":3,"labelPadding":3,"titlePadding":5}}},
"layer":[
{"data":{"name":"tiC"},"mark":{"type":"area","color":"#08198f","interpolate":"monotone"},
 "encoding":{"y":{"field":"b","type":"quantitative","title":"XPS intensity (cps)","scale":{"domain":[-0.185,16.9],"nice":false,"zero":false},
   "axis":{"values":[0,2,4,6,8,10,12,14,16],"labelExpr":"datum.value === 16 ? '16x10³' : datum.label","tickSize":7,"labelPadding":2,"titleX":-46,"titleY":188}},
   "y2":{"field":"z"},"detail":{"field":"s"}}},
{"data":{"name":"tiC"},"mark":{"type":"area","color":"#1a6b10","interpolate":"monotone"},
 "encoding":{"y":{"field":"g","type":"quantitative","title":"XPS intensity (cps)","scale":{"domain":[-0.185,16.9],"nice":false,"zero":false}},"y2":{"field":"z"},"detail":{"field":"s"}}},
{"data":{"name":"tiC"},"transform":[{"filter":"datum.s == '0'"}],"mark":{"type":"line","color":"#08198f","strokeWidth":2.5},
 "encoding":{"y":{"field":"z","type":"quantitative","title":"XPS intensity (cps)","scale":{"domain":[-0.185,16.9],"nice":false,"zero":false}}}},
{"data":{"name":"tiO"},"mark":{"type":"circle","color":"#ff0000","size":44,"opacity":1},
 "encoding":{"y":{"field":"v","type":"quantitative","title":"XPS intensity (cps)","scale":{"domain":[-0.185,16.9],"nice":false,"zero":false}}}},
{"data":{"name":"tiC"},"mark":{"type":"line","color":"black","strokeWidth":2.5,"interpolate":"monotone"},
 "encoding":{"y":{"field":"f","type":"quantitative","title":"XPS intensity (cps)","scale":{"domain":[-0.185,16.9],"nice":false,"zero":false}},"detail":{"field":"s"}}},
{"data":{"values":[{"e":467.84,"y":15.37,"t":"Ti2p"}]},"mark":{"type":"text","align":"left","baseline":"alphabetic","fontSize":21,"fontWeight":"bold","font":"Liberation Sans","color":"black"},
 "encoding":{"y":{"field":"y","type":"quantitative","title":"XPS intensity (cps)","scale":{"domain":[-0.185,16.9],"nice":false,"zero":false}},"text":{"field":"t"}}},
{"data":{"values":[{"e":456.1,"y":15.69,"t":"(a)"}]},"mark":{"type":"text","align":"right","baseline":"alphabetic","fontSize":21,"fontWeight":"bold","font":"Liberation Sans","color":"black"},
 "encoding":{"y":{"field":"y","type":"quantitative","title":"XPS intensity (cps)","scale":{"domain":[-0.185,16.9],"nice":false,"zero":false}},"text":{"field":"t"}}},
{"data":{"values":[{"e":464.88,"y":12.78,"t":"0° TO angle"},{"e":464.59,"y":4.6,"t":"60° TO angle"}]},"mark":{"type":"text","align":"left","baseline":"alphabetic","fontSize":17,"fontWeight":"bold","font":"Liberation Sans","color":"black"},
 "encoding":{"y":{"field":"y","type":"quantitative","title":"XPS intensity (cps)","scale":{"domain":[-0.185,16.9],"nice":false,"zero":false}},"text":{"field":"t"}}}
]
},
{
"width":250,"height":367,
"encoding":{"x":{"field":"e","type":"quantitative","title":"Binding energy (eV)","scale":{"domain":[774.37,800.74],"reverse":true,"nice":false,"zero":false},
  "axis":{"values":[775,776,777,778,779,780,781,782,783,784,785,786,787,788,789,790,791,792,793,794,795,796,797,798,799,800],"labelExpr":"datum.value % 5 === 0 ? format(datum.value, 'd') : ''","tickSize":{"condition":{"test":"datum.value % 5 === 0","value":8},"value":4},"offset":2,"labelPadding":3,"titlePadding":5}}},
"layer":[
{"data":{"name":"baC"},"mark":{"type":"area","color":"#08198f","interpolate":"monotone"},
 "encoding":{"y":{"field":"b","type":"quantitative","title":"XPS intensity (cps)","scale":{"domain":[-1.685,122],"nice":false,"zero":false},
   "axis":{"values":[0,20,40,60,80,100,120],"labelExpr":"datum.value === 120 ? '120x10³' : datum.label","tickSize":7,"labelPadding":2,"titleX":-53,"titleY":188}},
   "y2":{"field":"z"},"detail":{"field":"s"}}},
{"data":{"name":"baC"},"mark":{"type":"area","color":"#1a6b10","interpolate":"monotone"},
 "encoding":{"y":{"field":"g","type":"quantitative","title":"XPS intensity (cps)","scale":{"domain":[-1.685,122],"nice":false,"zero":false}},"y2":{"field":"z"},"detail":{"field":"s"}}},
{"data":{"name":"baO"},"mark":{"type":"circle","color":"#ff0000","size":44,"opacity":1},
 "encoding":{"y":{"field":"v","type":"quantitative","title":"XPS intensity (cps)","scale":{"domain":[-1.685,122],"nice":false,"zero":false}}}},
{"data":{"name":"baC"},"mark":{"type":"line","color":"black","strokeWidth":2.5,"interpolate":"monotone"},
 "encoding":{"y":{"field":"f","type":"quantitative","title":"XPS intensity (cps)","scale":{"domain":[-1.685,122],"nice":false,"zero":false}},"detail":{"field":"s"}}},
{"data":{"values":[{"e":799.95,"y":111.7,"t":"Ba3d"}]},"mark":{"type":"text","align":"left","baseline":"alphabetic","fontSize":21,"fontWeight":"bold","font":"Liberation Sans","color":"black"},
 "encoding":{"y":{"field":"y","type":"quantitative","title":"XPS intensity (cps)","scale":{"domain":[-1.685,122],"nice":false,"zero":false}},"text":{"field":"t"}}},
{"data":{"values":[{"e":774.8,"y":113,"t":"(b)"}]},"mark":{"type":"text","align":"right","baseline":"alphabetic","fontSize":21,"fontWeight":"bold","font":"Liberation Sans","color":"black"},
 "encoding":{"y":{"field":"y","type":"quantitative","title":"XPS intensity (cps)","scale":{"domain":[-1.685,122],"nice":false,"zero":false}},"text":{"field":"t"}}},
{"data":{"values":[{"e":792.9,"y":93.9,"t":"0° TO angle"},{"e":793.08,"y":31.9,"t":"60° TO angle"}]},"mark":{"type":"text","align":"left","baseline":"alphabetic","fontSize":17,"fontWeight":"bold","font":"Liberation Sans","color":"black"},
 "encoding":{"y":{"field":"y","type":"quantitative","title":"XPS intensity (cps)","scale":{"domain":[-1.685,122],"nice":false,"zero":false}},"text":{"field":"t"}}}
]
}
]
}
